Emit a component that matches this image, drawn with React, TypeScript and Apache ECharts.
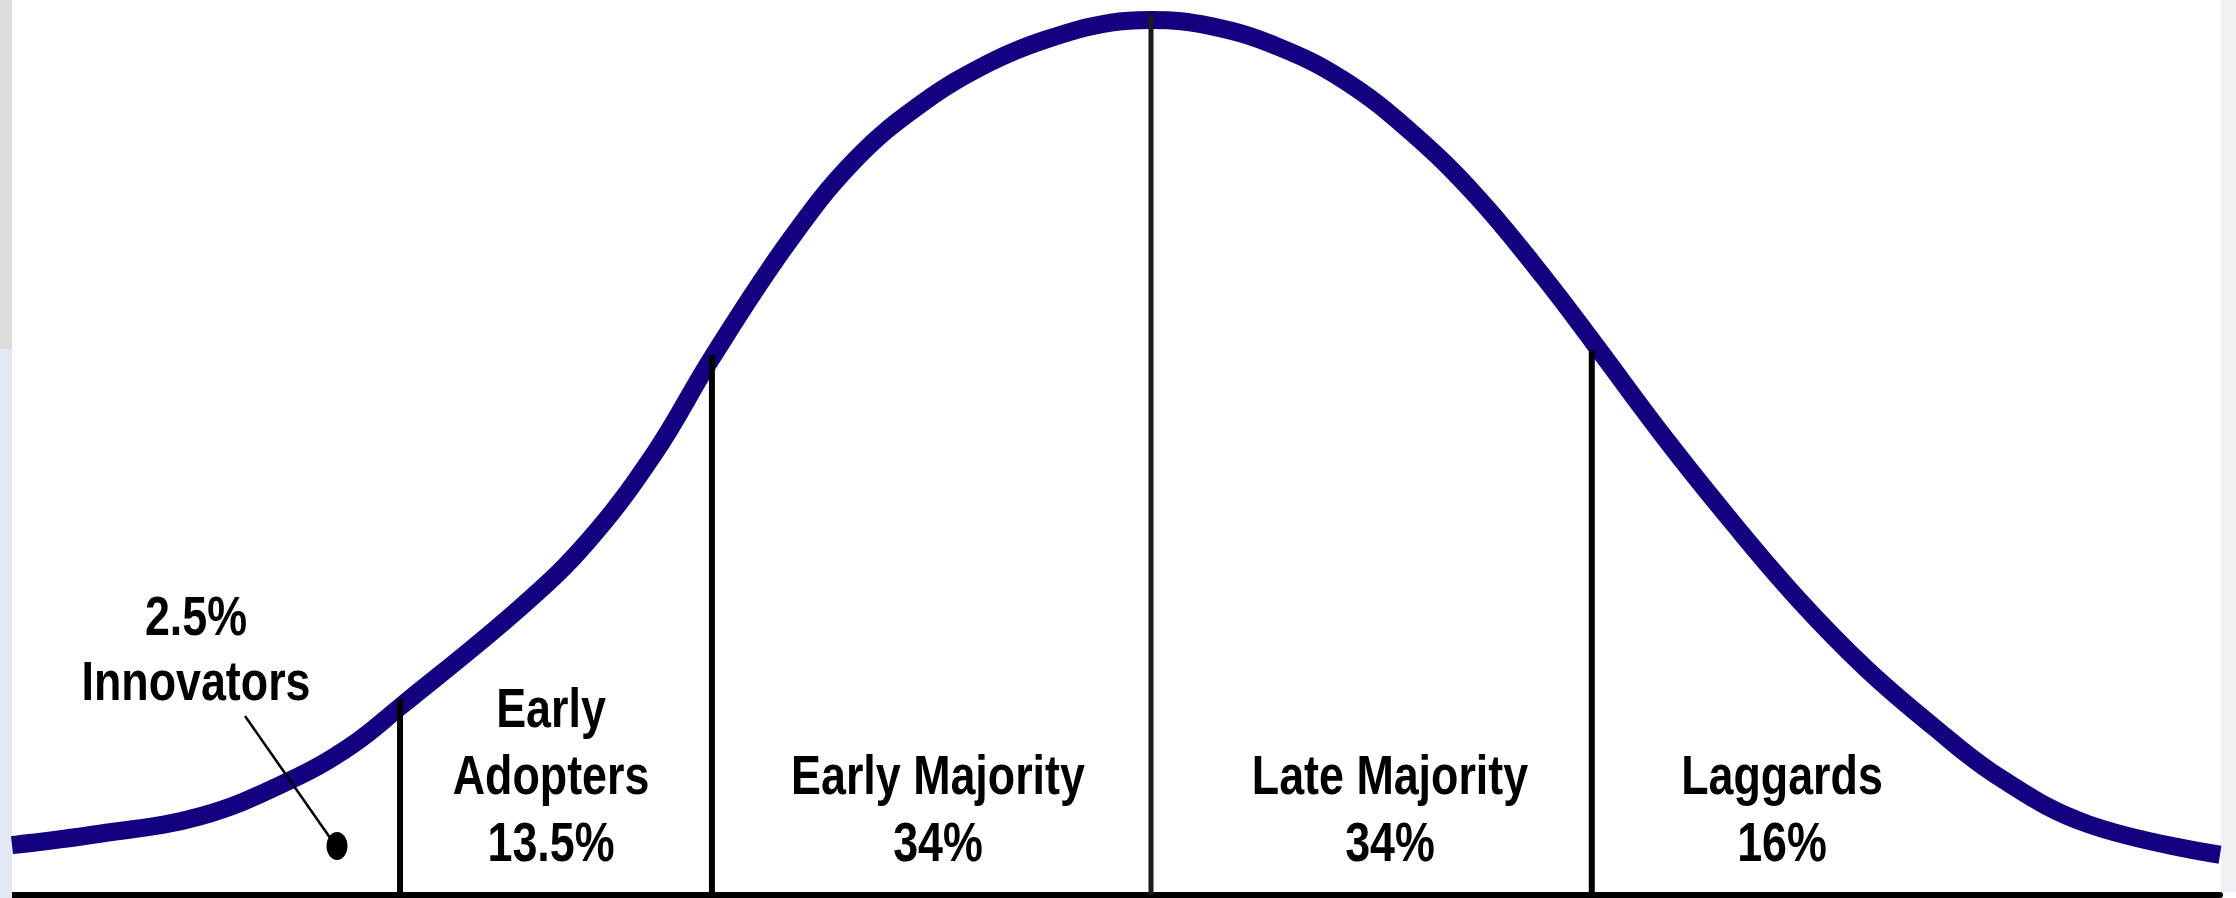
import React, { useEffect, useRef } from "react";
import * as echarts from "echarts";

// Curve: x in standard deviations from the peak, y in % of peak height
const curveX = [
  -2.589, -2.389, -2.161, -1.957, -1.82, -1.707, -1.43, -1.277, -1.127, -0.998,
  -0.823, -0.673, -0.52, -0.368, -0.243, -0.091, 0, 0.136, 0.286, 0.439, 0.591,
  0.741, 0.893, 1.005, 1.17, 1.323, 1.473, 1.625, 1.777, 1.927, 2.13, 2.43,
];
const curveY = [
  5.7, 7.0, 9.0, 13.1, 17.0, 21.5, 33.0, 40.6, 50.6, 61.4,
  74.7, 84.0, 90.5, 95.1, 97.7, 99.7, 100, 99.3, 97.0, 93.1, 87.2,
  79.8, 70.6, 63.2, 52.1, 42.5, 33.7, 25.9, 19.3, 13.5, 8.1, 4.6,
];

// Segment boundaries (vertical dividers) and where each one meets the curve
const boundaryX = [-1.707, -0.998, 0, 1.002];
const boundaryTop = [22.4, 61.7, 100.7, 62.3];

// Adopter categories and their shares
const segments = ["Innovators", "Early Adopters", "Early Majority", "Late Majority", "Laggards"];
const shares = ["2.5%", "13.5%", "34%", "34%", "16%"];

const X_MIN = -2.589;
const X_MAX = 2.43;

export default function App() {
  const ref = useRef<HTMLDivElement>(null);

  useEffect(() => {
    if (!ref.current) return;
    const chart = echarts.init(ref.current, undefined, { renderer: "svg" });

    const font = 'bold 56px "Liberation Sans", Arial, Helvetica, sans-serif';
    const txt = (text: string, x: number, y: number) => ({
      type: "text",
      x,
      y,
      scaleX: 0.8,
      z: 20,
      style: {
        text,
        font,
        fill: "#000",
        align: "center",
        verticalAlign: "middle",
        textAlign: "center",
        textVerticalAlign: "middle",
      },
    });

    const adopterWords = segments[1].split(" ");
    const labels = [
      txt(shares[0], 196, 616),
      txt(segments[0], 196, 681),
      txt(adopterWords[0], 551, 708),
      txt(adopterWords[1], 551, 775),
      txt(shares[1], 551, 842),
      txt(segments[2], 938, 775),
      txt(shares[2], 938, 842),
      txt(segments[3], 1390, 775),
      txt(shares[3], 1390, 842),
      txt(segments[4], 1782, 775),
      txt(shares[4], 1782, 842),
    ];

    const dividerSeries = boundaryX.map((bx, i) => ({
      type: "line",
      data: [
        [bx, 0],
        [bx, boundaryTop[i]],
      ],
      symbol: "none",
      silent: true,
      clip: false,
      z: 5,
      lineStyle: { color: i === 2 ? "#1a1a1a" : "#000", width: i === 2 ? 5 : 6 },
    }));

    chart.setOption({
      animation: false,
      backgroundColor: "#ffffff",
      grid: { left: 12, right: 16, top: 20, bottom: 3 },
      xAxis: {
        type: "value",
        min: X_MIN,
        max: X_MAX,
        axisLine: { show: true, onZero: false, lineStyle: { color: "#000", width: 6 } },
        axisTick: { show: false },
        axisLabel: { show: false },
        splitLine: { show: false },
      },
      yAxis: {
        type: "value",
        min: 0,
        max: 100,
        show: false,
        splitLine: { show: false },
      },
      series: [
        {
          type: "line",
          data: curveX.map((x, i) => [x, curveY[i]]),
          smooth: 0.4,
          symbol: "none",
          silent: true,
          clip: false,
          z: 3,
          lineStyle: { color: "#12007f", width: 18 },
        },
        ...dividerSeries,
      ],
      graphic: [
        {
          type: "rect",
          shape: { x: 0, y: 0, width: 12, height: 349 },
          style: { fill: "#dcdcd8" },
          z: 1,
        },
        {
          type: "rect",
          shape: { x: 0, y: 349, width: 12, height: 549 },
          style: { fill: "#e2e8f4" },
          z: 1,
        },
        {
          type: "rect",
          shape: { x: 2221, y: 0, width: 15, height: 892 },
          style: { fill: "#eef1f4" },
          z: 1,
        },
        {
          type: "line",
          shape: { x1: 245, y1: 716, x2: 333, y2: 842 },
          style: { stroke: "#000", lineWidth: 2.5 },
          z: 20,
        },
        {
          type: "ellipse",
          shape: { cx: 337, cy: 846, rx: 10.5, ry: 14 },
          style: { fill: "#000" },
          z: 20,
        },
        ...labels,
      ],
    });

    return () => chart.dispose();
  }, []);

  return (
    <div
      ref={ref}
      style={{ position: "fixed", left: 0, top: 0, width: 2236, height: 898, background: "#fff" }}
    />
  );
}
